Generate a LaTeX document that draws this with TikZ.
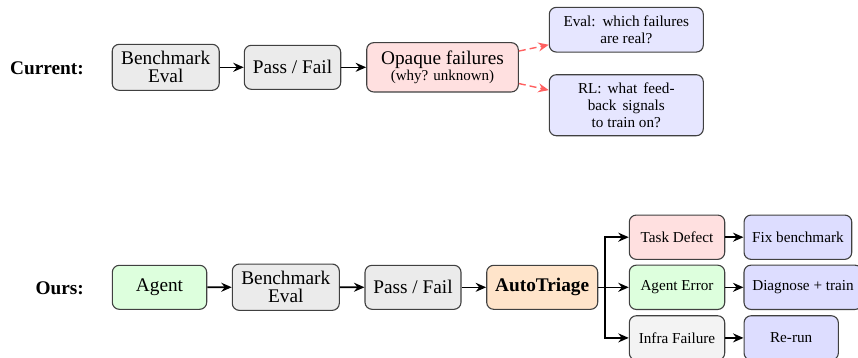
\documentclass[tikz,border=0pt]{standalone}
\usepackage{fontspec}
\setmainfont{Liberation Serif}
\usetikzlibrary{arrows.meta}

\definecolor{boxline}{HTML}{404040}
\definecolor{neutral}{HTML}{EBEBEB}
\definecolor{light}{HTML}{F3F3F3}
\definecolor{rose}{HTML}{FFE0E0}
\definecolor{lilac}{HTML}{E6E6FF}
\definecolor{lilacdeep}{HTML}{DDDDFF}
\definecolor{mint}{HTML}{DDFFDD}
\definecolor{peach}{HTML}{FFE4CA}
\definecolor{alert}{HTML}{FF6060}

\begin{document}
\begin{tikzpicture}[x=1pt,y=-1pt,
  box/.style={draw=boxline, line width=1.1pt, rounded corners=7pt,
    align=center, inner sep=0pt,
    font=\fontsize{19.3}{18}\selectfont},
  sbox/.style={box, font=\fontsize{15.2}{17.3}\selectfont},
  tip/.style={-{Stealth[length=10.5pt,width=9pt,inset=3.5pt]}},
  arr/.style={tip, line width=1.6pt, black},
  darr/.style={tip, line width=1.4pt,
    alert, dash pattern=on 7pt off 4pt},
  lbl/.style={anchor=base east, inner sep=0pt,
    font=\fontsize{19.3}{20}\selectfont\bfseries}]

\useasboundingbox (0,0) rectangle (858,357);

% ---- current pipeline ----
\node[lbl] (cur) at (84,74) {Current:};
\node[box, fill=neutral, minimum width=107, minimum height=46]
  (be1) at (165.7,67.3) {Benchmark\\Eval};
\node[box, fill=neutral, minimum width=96.4, minimum height=44]
  (pf1) at (292.5,67.3) {Pass / Fail};
\node[box, fill=rose, minimum width=151.6, minimum height=49.3,
  font=\fontsize{19.3}{16}\selectfont]
  (opq) at (442.5,67.3) {Opaque failures\\{\fontsize{15}{16}\selectfont (why? unknown)}};
\node[sbox, fill=lilac, minimum width=154, minimum height=44.7]
  (ev) at (626.3,29.7) {Eval:\hspace{0.45em}which failures\\are real?};
\node[sbox, fill=lilac, minimum width=154, minimum height=61]
  (rl) at (626.3,105.2)
  {RL:\hspace{0.4em}what\hspace{0.4em}feed-\\back\hspace{0.4em}signals\\to train on?};

\draw[arr] (be1) -- (pf1);
\draw[arr] (pf1) -- (opq);
\draw[darr] (opq.12) -- (ev.191);
\draw[darr] (opq.-12) -- (rl.169);

% ---- proposed pipeline ----
\node[lbl] (ours) at (84,294.3) {Ours:};
\node[box, fill=mint, minimum width=94.4, minimum height=44]
  (ag) at (159.5,287.3) {Agent};
\node[box, fill=neutral, minimum width=107, minimum height=46.3]
  (be2) at (285.8,287.2) {Benchmark\\Eval};
\node[box, fill=neutral, minimum width=96, minimum height=44]
  (pf2) at (413,287.3) {Pass / Fail};
\node[box, fill=peach, minimum width=111, minimum height=44,
  font=\fontsize{19.3}{18}\selectfont\bfseries]
  (at) at (542.2,287.3) {AutoTriage};

\node[sbox, fill=rose, minimum width=95.4, minimum height=44.3]
  (td) at (677,237.2) {Task Defect};
\node[sbox, fill=mint, minimum width=95.4, minimum height=44.3]
  (ae) at (677,287.3) {Agent Error};
\node[sbox, fill=light, minimum width=95.4, minimum height=44.3]
  (inf) at (677,337.9) {Infra Failure};

\node[sbox, fill=lilacdeep, minimum width=107.7, minimum height=44.3]
  (fb) at (797.9,237.2) {Fix benchmark};
\node[sbox, fill=lilacdeep, minimum width=118, minimum height=44.3]
  (dt) at (803,287.3) {Diagnose + train};
\node[sbox, fill=lilacdeep, minimum width=94.3, minimum height=44.3]
  (rr) at (791.2,337.9) {Re-run};

\draw[arr] (ag) -- (be2);
\draw[arr] (be2) -- (pf2);
\draw[arr] (pf2) -- (at);

\coordinate (fork) at ([xshift=6.5pt]at.east);
\draw[line width=1.6pt] (at.east) -- (fork);
\draw[arr] (fork) |- (td.west);
\draw[arr] (fork) -- (ae.west);
\draw[arr] (fork) |- (inf.west);

\draw[arr] (td) -- (fb);
\draw[arr] (ae) -- (dt);
\draw[arr] (inf) -- (rr);
\end{tikzpicture}
\end{document}
